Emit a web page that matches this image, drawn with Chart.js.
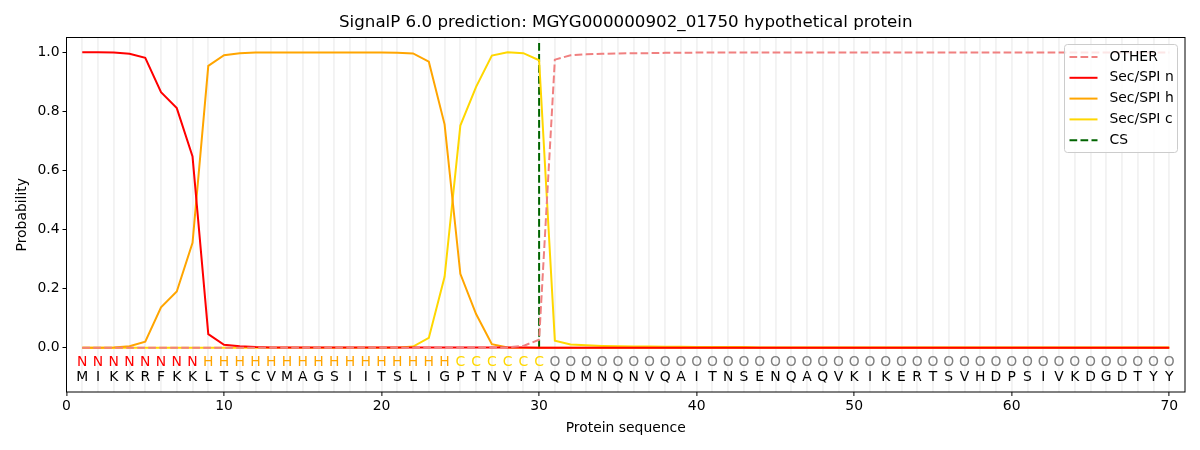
<!DOCTYPE html>
<html>
<head>
<meta charset="utf-8">
<script src="https://cdn.jsdelivr.net/npm/chart.js@4/dist/chart.umd.min.js"></script>
<style>
  html, body { margin: 0; padding: 0; background: #fff; }
  #wrap { width: 1200px; height: 450px; }
</style>
</head>
<body>
<div id="wrap"><canvas id="myChart" width="1200" height="450"></canvas></div>
<script>
// Protein sequence and predicted region labels
const residues = "MIKKRFKKLTSCVMAGSIITSLIGPTNVFAQDMNQNVQAITNSENQAQVKIKERTSVHDPSIVKDGDTYY".split("");
const regions = "NNNNNNNNHHHHHHHHHHHHHHHHCCCCCCOOOOOOOOOOOOOOOOOOOOOOOOOOOOOOOOOOOOOOOO".split("");

// Per-residue probabilities (positions 1..70)
const otherProb = [0, 0, 0, 0, 0, 0, 0, 0, 0, 0,
  0, 0, 0, 0, 0, 0, 0, 0, 0, 0,
  0, 0, 0, 0, 0, 0, 0, 0.001, 0.006, 0.027,
  0.975, 0.99, 0.993, 0.995, 0.996, 0.997, 0.997, 0.998, 0.998, 0.999,
  0.999, 0.999, 0.999, 0.999, 0.999, 0.999, 0.999, 0.999, 0.999, 0.999,
  0.999, 0.999, 0.999, 0.999, 0.999, 0.999, 0.999, 0.999, 0.999, 0.999,
  0.999, 0.999, 0.999, 0.999, 0.999, 0.999, 0.999, 0.999, 0.999, 0.999];
const nProb = [1.0, 1.0, 0.999, 0.995, 0.981, 0.865, 0.811, 0.647, 0.046, 0.01,
  0.005, 0.002, 0.001, 0.001, 0.001, 0.001, 0.001, 0.001, 0.001, 0.001,
  0.001, 0.001, 0.001, 0.001, 0.001, 0.001, 0.001, 0.001, 0.001, 0,
  0, 0, 0, 0, 0, 0, 0, 0, 0, 0,
  0, 0, 0, 0, 0, 0, 0, 0, 0, 0,
  0, 0, 0, 0, 0, 0, 0, 0, 0, 0,
  0, 0, 0, 0, 0, 0, 0, 0, 0, 0];
const hProb = [0, 0, 0.001, 0.005, 0.02, 0.137, 0.19, 0.355, 0.954, 0.99,
  0.997, 0.999, 0.999, 0.999, 0.999, 0.999, 0.999, 0.999, 0.999, 0.999,
  0.998, 0.996, 0.968, 0.756, 0.25, 0.114, 0.012, 0.001, 0, 0,
  0, 0, 0, 0, 0, 0, 0, 0, 0, 0,
  0, 0, 0, 0, 0, 0, 0, 0, 0, 0,
  0, 0, 0, 0, 0, 0, 0, 0, 0, 0,
  0, 0, 0, 0, 0, 0, 0, 0, 0, 0];
const cProb = [0, 0, 0, 0, 0, 0, 0, 0, 0, 0,
  0, 0, 0, 0, 0, 0, 0, 0, 0, 0,
  0, 0.004, 0.033, 0.24, 0.752, 0.883, 0.989, 1.0, 0.997, 0.973,
  0.024, 0.011, 0.008, 0.006, 0.005, 0.004, 0.004, 0.003, 0.003, 0.002,
  0.002, 0.002, 0.002, 0.001, 0.001, 0.001, 0.001, 0.001, 0.001, 0.001,
  0.001, 0.001, 0.001, 0.001, 0.001, 0.001, 0.001, 0.001, 0.001, 0.001,
  0.001, 0.001, 0.001, 0.001, 0.001, 0.001, 0.001, 0.001, 0.001, 0.001];

// Cleavage site
const csPos = 30;
const csLine = [0, 1.04];

const xTicks = [0, 10, 20, 30, 40, 50, 60, 70];
const yTicks = [0.0, 0.2, 0.4, 0.6, 0.8, 1.0];

const regionColors = { N: "#ff0000", H: "#ffa500", C: "#ffd700", O: "#808080" };

const FONT = "'DejaVu Sans', sans-serif";
const DASH = [7.7, 3.3];
const LW = 2;

function toPoints(arr) {
  return arr.map((v, i) => ({ x: i + 1, y: v }));
}

// Residue letters, frame and legend drawn in plot coordinates
const overlay = {
  id: "overlay",
  afterDatasetsDraw(chart) {
    const ctx = chart.ctx;
    const xs = chart.scales.x;
    const ys = chart.scales.y;
    const a = chart.chartArea;
    ctx.save();
    ctx.font = "13.9px " + FONT;
    ctx.textAlign = "center";
    ctx.textBaseline = "middle";
    for (let i = 0; i < residues.length; i++) {
      const px = xs.getPixelForValue(i + 1);
      ctx.fillStyle = regionColors[regions[i]];
      ctx.fillText(regions[i], px, ys.getPixelForValue(-0.05));
      ctx.fillStyle = "#000";
      ctx.fillText(residues[i], px, ys.getPixelForValue(-0.10));
    }

    // legend box
    const items = [
      { label: "OTHER", color: "#f08080", dash: DASH },
      { label: "Sec/SPI n", color: "#ff0000", dash: [] },
      { label: "Sec/SPI h", color: "#ffa500", dash: [] },
      { label: "Sec/SPI c", color: "#ffd700", dash: [] },
      { label: "CS", color: "#006400", dash: DASH }
    ];
    const bx = 1064.5, by = 44.5, bw = 113, bh = 108;
    ctx.fillStyle = "rgba(255,255,255,0.8)";
    ctx.strokeStyle = "#cccccc";
    ctx.lineWidth = 1;
    ctx.beginPath();
    ctx.roundRect(bx, by, bw, bh, 3);
    ctx.fill();
    ctx.stroke();
    ctx.textAlign = "left";
    items.forEach((it, k) => {
      const yy = by + 12.5 + k * 20.8;
      ctx.strokeStyle = it.color;
      ctx.lineWidth = LW;
      ctx.setLineDash(it.dash);
      ctx.beginPath();
      ctx.moveTo(bx + 5, yy);
      ctx.lineTo(bx + 33, yy);
      ctx.stroke();
      ctx.setLineDash([]);
      ctx.fillStyle = "#000";
      ctx.fillText(it.label, bx + 45, yy);
    });

    // frame
    ctx.strokeStyle = "#000";
    ctx.lineWidth = 1;
    ctx.strokeRect(a.left, a.top, a.right - a.left, a.bottom - a.top);
    ctx.restore();
  }
};

const ctx = document.getElementById("myChart").getContext("2d");
const myChart = new Chart(ctx, {
  type: "line",
  data: {
    datasets: [
      {
        label: "OTHER",
        data: toPoints(otherProb),
        borderColor: "#f08080",
        borderDash: DASH,
        borderWidth: LW,
        pointRadius: 0,
      },
      {
        label: "Sec/SPI n",
        data: toPoints(nProb),
        borderColor: "#ff0000",
        borderWidth: LW,
        pointRadius: 0,
      },
      {
        label: "Sec/SPI h",
        data: toPoints(hProb),
        borderColor: "#ffa500",
        borderWidth: LW,
        pointRadius: 0,
      },
      {
        label: "Sec/SPI c",
        data: toPoints(cProb),
        borderColor: "#ffd700",
        borderWidth: LW,
        pointRadius: 0,
      },
      {
        label: "CS",
        data: csLine.map(v => ({ x: csPos, y: v })),
        borderColor: "#006400",
        borderDash: DASH,
        borderWidth: LW,
        pointRadius: 0,
      },
    ],
  },
  options: {
    responsive: false,
    animation: false,
    devicePixelRatio: 1,
    layout: { padding: { top: 37.5, right: 15, left: 14, bottom: 13 } },
    plugins: {
      legend: { display: false },
      tooltip: { enabled: false },
      title: { display: false },
    },
    scales: {
      x: {
        type: "linear",
        min: 0,
        max: 71,
        afterBuildTicks(scale) {
          const t = [];
          for (let i = 0; i <= 71; i++) t.push({ value: i });
          scale.ticks = t;
        },
        afterFit(scale) { scale.height = 45; },
        ticks: {
          autoSkip: false,
          maxRotation: 0,
          color: "#000",
          font: { family: FONT, size: 13.9 },
          padding: 2,
          callback: (v) => (xTicks.includes(v) ? String(v) : ""),
        },
        grid: {
          drawOnChartArea: true,
          color: (c) => (c.tick && c.tick.value >= 1 && c.tick.value <= 70 ? "#f2f2f2" : "rgba(0,0,0,0)"),
          lineWidth: 1.8,
          tickLength: 4,
          tickColor: (c) => (c.tick && xTicks.includes(c.tick.value) ? "#000" : "rgba(0,0,0,0)"),
          tickWidth: 1,
        },
        border: { display: false },
        title: {
          display: true,
          text: "Protein sequence",
          color: "#000",
          font: { family: FONT, size: 13.9 },
          padding: { top: 2, bottom: 0 },
        },
      },
      y: {
        min: -0.15,
        max: 1.05,
        afterBuildTicks(scale) {
          scale.ticks = yTicks.map(v => ({ value: v }));
        },
        afterFit(scale) { scale.width = 52.5; },
        ticks: {
          color: "#000",
          font: { family: FONT, size: 13.9 },
          padding: 3,
          callback: (v) => v.toFixed(1),
        },
        grid: {
          drawOnChartArea: false,
          tickLength: 4,
          tickColor: "#000",
        },
        border: { display: false },
        title: {
          display: true,
          text: "Probability",
          color: "#000",
          font: { family: FONT, size: 13.9 },
          padding: { top: 0, bottom: 4 },
        },
      },
    },
  },
  plugins: [overlay, {
    id: "topTitle",
    afterDraw(chart) {
      const c = chart.ctx;
      const a = chart.chartArea;
      c.save();
      c.font = "16.7px " + FONT;
      c.fillStyle = "#000";
      c.textAlign = "center";
      c.textBaseline = "middle";
      c.fillText("SignalP 6.0 prediction: MGYG000000902_01750 hypothetical protein", (a.left + a.right) / 2, 23);
      c.restore();
    }
  }],
});
</script>
</body>
</html>
